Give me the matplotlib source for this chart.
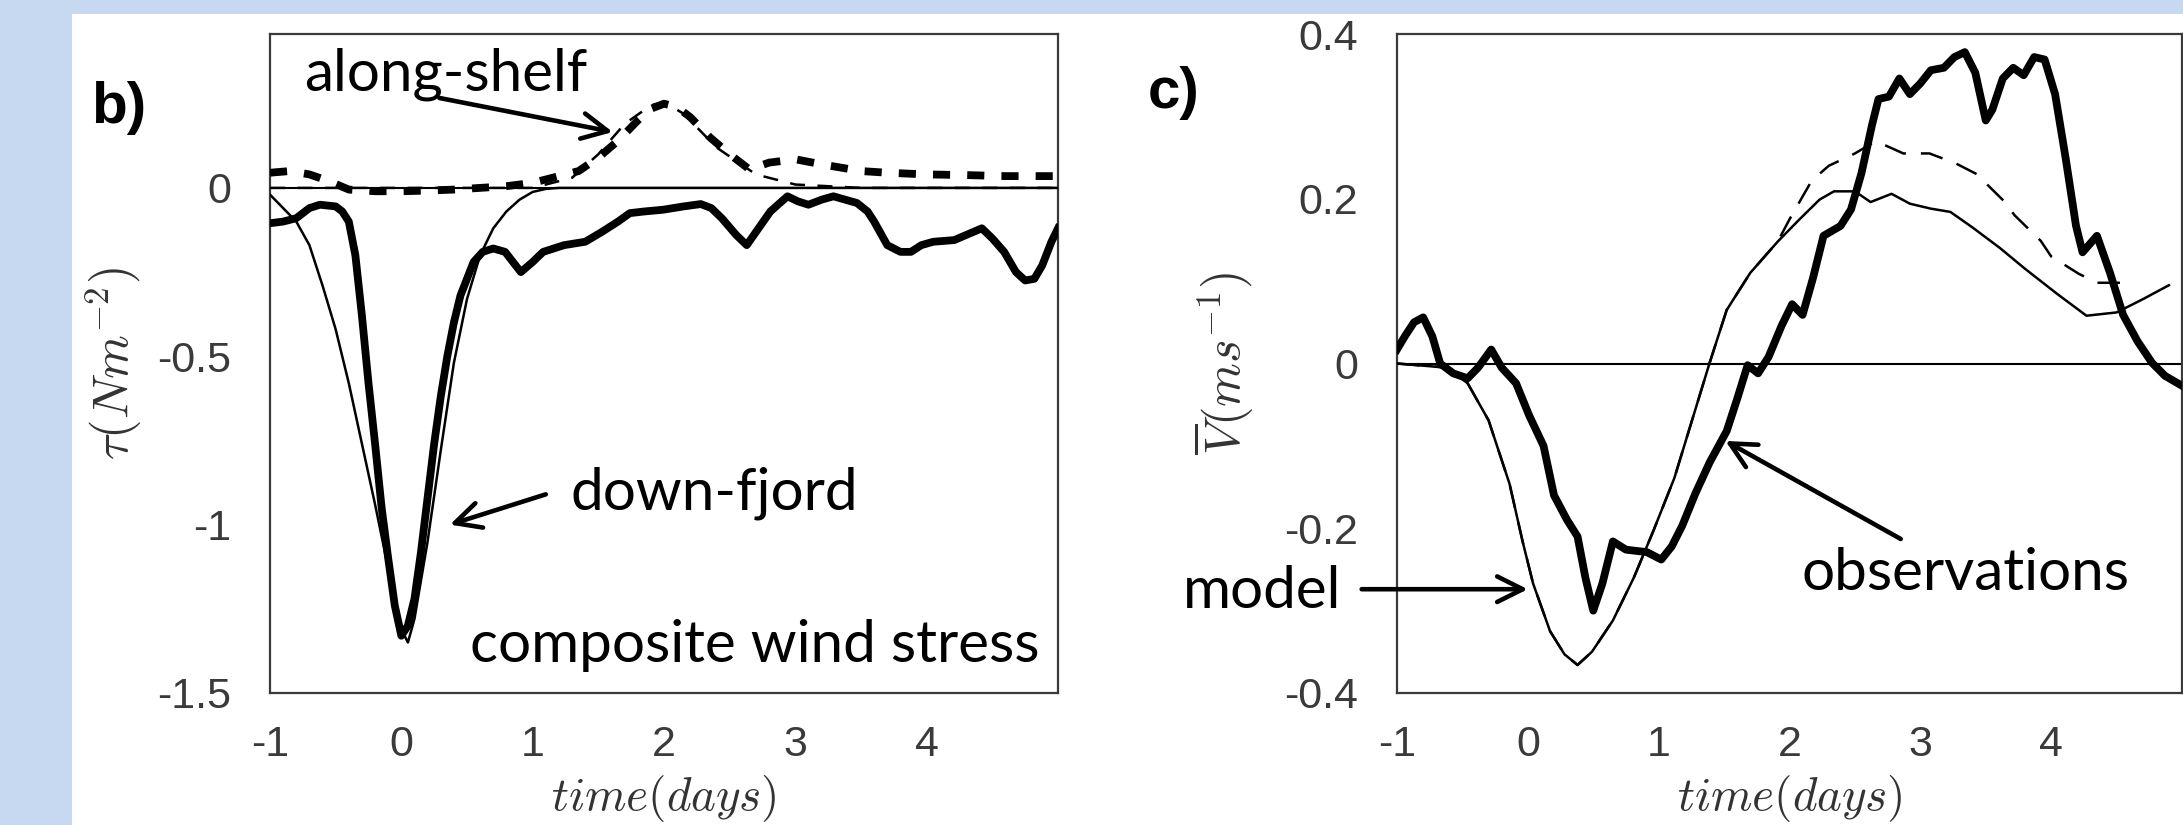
import matplotlib
matplotlib.use('Agg')
import matplotlib.pyplot as plt
from matplotlib.patches import Rectangle

plt.rcParams['mathtext.fontset'] = 'cm'

# ---------------- data ----------------
# panel b: composite wind stress
b_obs_t = [-1.0, -0.9, -0.8, -0.7, -0.62, -0.5, -0.45, -0.4, -0.35, -0.3, -0.25, -0.2,
           -0.15, -0.1, -0.05, 0.0, 0.05, 0.1, 0.15, 0.2, 0.25, 0.3, 0.35, 0.4, 0.45,
           0.5, 0.55, 0.62, 0.7, 0.79, 0.85, 0.91, 1.0, 1.08, 1.24, 1.4, 1.53, 1.65,
           1.74, 1.85, 1.99, 2.15, 2.28, 2.36, 2.44, 2.55, 2.63, 2.72, 2.81, 2.94, 3.02,
           3.10, 3.2, 3.29, 3.38, 3.47, 3.55, 3.60, 3.70, 3.80, 3.88, 3.96, 4.05, 4.21,
           4.3, 4.42, 4.5, 4.59, 4.68, 4.75, 4.82, 4.88, 4.95, 5.0]
b_obs_v = [-0.105, -0.10, -0.09, -0.06, -0.05, -0.055, -0.07, -0.10, -0.20, -0.38, -0.58,
           -0.76, -0.95, -1.10, -1.24, -1.33, -1.30, -1.22, -1.08, -0.92, -0.76, -0.62,
           -0.50, -0.40, -0.32, -0.27, -0.22, -0.19, -0.18, -0.19, -0.22, -0.25, -0.22,
           -0.19, -0.17, -0.16, -0.13, -0.10, -0.075, -0.07, -0.065, -0.055, -0.048,
           -0.06, -0.09, -0.14, -0.17, -0.12, -0.07, -0.025, -0.04, -0.05, -0.035, -0.025,
           -0.035, -0.045, -0.07, -0.10, -0.17, -0.19, -0.19, -0.17, -0.16, -0.155, -0.14,
           -0.12, -0.15, -0.19, -0.25, -0.275, -0.27, -0.23, -0.16, -0.12]

b_mod_t = [-1.0, -0.9, -0.8, -0.7, -0.6, -0.5, -0.4, -0.3, -0.2, -0.1, 0.0, 0.05, 0.1,
           0.2, 0.3, 0.4, 0.5, 0.6, 0.7, 0.8, 0.9, 1.0, 1.1, 1.2, 1.5, 2.0, 3.0, 4.0, 5.0]
b_mod_v = [-0.02, -0.06, -0.10, -0.17, -0.29, -0.42, -0.58, -0.76, -0.94, -1.13, -1.31,
           -1.35, -1.28, -1.05, -0.78, -0.52, -0.33, -0.20, -0.12, -0.07, -0.035, -0.012,
           -0.003, 0.0, 0.0, 0.0, 0.0, 0.0, 0.0]

b_along_t = [-1.0, -0.85, -0.7, -0.55, -0.4, -0.2, 0.0, 0.2, 0.4, 0.6, 0.8, 1.0, 1.2,
             1.35, 1.5, 1.65, 1.8, 1.9, 2.0, 2.1, 2.2, 2.35, 2.5, 2.65, 2.8, 3.0, 3.2,
             3.35, 3.5, 3.7, 4.0, 4.3, 4.6, 5.0]
b_along_v = [0.045, 0.05, 0.04, 0.02, -0.005, -0.01, -0.01, -0.008, -0.005, 0.0, 0.005,
             0.015, 0.035, 0.05, 0.09, 0.14, 0.2, 0.235, 0.25, 0.24, 0.21, 0.15, 0.1,
             0.055, 0.075, 0.085, 0.07, 0.06, 0.05, 0.045, 0.04, 0.038, 0.035, 0.035]

b_along_mod_t = [-1.0, 1.0, 1.3, 1.5, 1.7, 1.9, 2.0, 2.15, 2.4, 2.7, 3.0, 3.5, 4.0, 5.0]
b_along_mod_v = [0.0, 0.0, 0.03, 0.10, 0.19, 0.245, 0.255, 0.22, 0.12, 0.04, 0.01, 0.0,
                 0.0, 0.0]

# panel c: depth-averaged velocity
c_obs_t = [-1.0, -0.94, -0.87, -0.80, -0.73, -0.67, -0.57, -0.46, -0.38, -0.28, -0.20,
           -0.09, 0.01, 0.12, 0.20, 0.30, 0.38, 0.44, 0.50, 0.57, 0.65, 0.75, 0.91, 1.02,
           1.10, 1.18, 1.28, 1.39, 1.52, 1.60, 1.68, 1.76, 1.84, 1.94, 2.02, 2.10, 2.18,
           2.26, 2.39, 2.47, 2.55, 2.63, 2.68, 2.76, 2.84, 2.92, 3.00, 3.08, 3.18, 3.26,
           3.34, 3.42, 3.50, 3.55, 3.63, 3.71, 3.79, 3.87, 3.95, 4.03, 4.11, 4.19, 4.24,
           4.35, 4.45, 4.55, 4.66, 4.77, 4.87, 5.0]
c_obs_v = [0.017, 0.033, 0.05, 0.056, 0.033, 0.0, -0.012, -0.018, -0.005, 0.017, -0.005,
           -0.024, -0.063, -0.10, -0.16, -0.19, -0.21, -0.26, -0.30, -0.267, -0.216,
           -0.226, -0.229, -0.238, -0.222, -0.197, -0.158, -0.12, -0.082, -0.043, -0.002,
           -0.012, 0.008, 0.046, 0.072, 0.059, 0.104, 0.155, 0.167, 0.187, 0.231, 0.289,
           0.321, 0.324, 0.346, 0.327, 0.34, 0.356, 0.359, 0.372, 0.378, 0.353, 0.295,
           0.308, 0.346, 0.359, 0.35, 0.372, 0.369, 0.327, 0.25, 0.167, 0.135, 0.155,
           0.11, 0.059, 0.027, 0.001, -0.015, -0.027]

c_mod_t = [-1.0, -0.62, -0.46, -0.30, -0.14, -0.04, 0.04, 0.17, 0.28, 0.38, 0.49, 0.65,
           0.81, 0.96, 1.12, 1.28, 1.39, 1.52, 1.70, 1.91, 2.07, 2.23, 2.34, 2.50, 2.62,
           2.78, 2.92, 3.08, 3.23, 3.40, 3.61, 3.80, 4.05, 4.27, 4.50, 4.70, 4.90]
c_mod_v = [0.0, -0.005, -0.024, -0.069, -0.146, -0.216, -0.267, -0.325, -0.353, -0.366,
           -0.35, -0.312, -0.26, -0.203, -0.139, -0.056, 0.001, 0.065, 0.11, 0.148, 0.174,
           0.199, 0.209, 0.209, 0.196, 0.206, 0.194, 0.188, 0.184, 0.165, 0.14, 0.115,
           0.084, 0.058, 0.062, 0.078, 0.095]

c_mod2_t = [-1.0, -0.62, -0.46, -0.30, -0.14, -0.04, 0.04, 0.17, 0.28, 0.38, 0.49, 0.65,
            0.81, 0.96, 1.12, 1.28, 1.39, 1.52, 1.70, 1.91, 2.0, 2.17, 2.30, 2.50, 2.66,
            2.87, 3.07, 3.27, 3.43, 3.64, 3.72, 3.92, 4.0, 4.21, 4.35, 4.62]
c_mod2_v = [0.0, -0.005, -0.024, -0.069, -0.146, -0.216, -0.267, -0.325, -0.353, -0.366,
            -0.35, -0.312, -0.26, -0.203, -0.139, -0.056, 0.001, 0.065, 0.11, 0.148,
            0.175, 0.222, 0.24, 0.255, 0.27, 0.255, 0.255, 0.243, 0.23, 0.197, 0.18,
            0.149, 0.13, 0.109, 0.098, 0.098]

x_ticks = [-1, 0, 1, 2, 3, 4]
b_yticks = [-1.5, -1, -0.5, 0]
b_yticklabels = ['-1.5', '-1', '-0.5', '0']
c_yticks = [-0.4, -0.2, 0, 0.2, 0.4]
c_yticklabels = ['-0.4', '-0.2', '0', '0.2', '0.4']

# ---------------- figure ----------------
W, H = 2183, 825
fig = plt.figure(figsize=(W / 100, H / 100), dpi=100, facecolor='#C6D9F1')
fig.patches.append(Rectangle((72 / W, 0), 1 - 72 / W, 1 - 14 / H,
                             transform=fig.transFigure, facecolor='white',
                             edgecolor='none', zorder=-1))


def rect(left, right, top, bottom):
    return [left / W, 1 - bottom / H, (right - left) / W, (bottom - top) / H]


axb = fig.add_axes(rect(270, 1058, 34, 693))
axc = fig.add_axes(rect(1397, 2182, 34, 693))

tick_col = '#3a3a3a'
for ax in (axb, axc):
    ax.set_facecolor('white')
    ax.set_xlim(-1, 5)
    ax.set_xticks(x_ticks)
    ax.set_xticklabels([str(t) for t in x_ticks])
    ax.tick_params(axis='both', length=0, labelsize=31, labelcolor=tick_col)
    ax.tick_params(axis='x', pad=23)
    ax.tick_params(axis='y', pad=28)
    for lab in ax.get_xticklabels() + ax.get_yticklabels():
        lab.set_family('Liberation Sans')
    for sp in ax.spines.values():
        sp.set_color('#3a3a3a')
        sp.set_linewidth(1.6)
    ax.axhline(0, color='black', lw=1.5, zorder=2)
    ax.set_xlabel('$time(days)$', fontsize=34, color='#333333')
    ax.xaxis.set_label_coords(0.5, -0.122)

# panel b
axb.set_ylim(-1.5, 0.457)
axb.set_yticks(b_yticks)
axb.set_yticklabels(b_yticklabels)
for lab in axb.get_yticklabels():
    lab.set_family('Liberation Sans')
axb.plot(b_mod_t, b_mod_v, color='black', lw=1.8, zorder=3)
axb.plot(b_along_mod_t, b_along_mod_v, color='black', lw=1.8,
         ls=(0, (6, 5)), zorder=3)
axb.plot(b_along_t, b_along_v, color='black', lw=5.6, ls=(0, (2.2, 2.2)), zorder=4)
axb.plot(b_obs_t, b_obs_v, color='black', lw=5.6, solid_joinstyle='round', zorder=5)
axb.set_ylabel(r'$\tau(Nm^{-2})$', fontsize=36, color='#333333')
axb.yaxis.label.set_va('center')
axb.yaxis.set_label_coords(-0.198, 0.5)

tfont = dict(family='Lato', fontsize=42, color='black', va='baseline', ha='left',
             clip_on=False, zorder=10)
axb.text(-0.74, 0.29, 'along-shelf', **tfont)
axb.text(1.29, -0.956, 'down-fjord', **tfont)
axb.text(0.52, -1.408, 'composite wind stress', **tfont)
arr = dict(arrowstyle='->', lw=3.3, color='black', mutation_scale=46,
           shrinkA=0, shrinkB=0)
axb.annotate('', xy=(1.61, 0.166), xytext=(0.29, 0.267), arrowprops=arr,
             annotation_clip=False, zorder=10)
axb.annotate('', xy=(0.37, -1.0), xytext=(1.10, -0.91), arrowprops=arr,
             annotation_clip=False, zorder=10)

# panel c
axc.set_ylim(-0.4, 0.4)
axc.set_yticks(c_yticks)
axc.set_yticklabels(c_yticklabels)
for lab in axc.get_yticklabels():
    lab.set_family('Liberation Sans')
axc.plot(c_mod_t, c_mod_v, color='black', lw=1.8, zorder=3)
axc.plot(c_mod2_t, c_mod2_v, color='black', lw=1.8, ls=(0, (9, 6)), zorder=3)
axc.plot(c_obs_t, c_obs_v, color='black', lw=5.6, solid_joinstyle='round', zorder=5)
axc.set_ylabel(r'$\overline{V}(ms^{-1})$', fontsize=36, color='#333333')
axc.yaxis.label.set_va('center')
axc.yaxis.set_label_coords(-0.220, 0.5)

axc.text(-2.64, -0.297, 'model', **tfont)
axc.text(2.09, -0.275, 'observations', **tfont)
axc.annotate('', xy=(0.0, -0.274), xytext=(-1.27, -0.274), arrowprops=arr,
             annotation_clip=False, zorder=10)
axc.annotate('', xy=(1.51, -0.094), xytext=(2.85, -0.213), arrowprops=arr,
             annotation_clip=False, zorder=10)

# panel labels
fig.text(91 / W, 1 - 108 / H, 'b)', family='Liberation Sans', fontsize=42,
         fontweight='bold', color='black', va='center', ha='left')
fig.text(1148 / W, 1 - 93 / H, 'c)', family='Liberation Sans', fontsize=42,
         fontweight='bold', color='black', va='center', ha='left')

fig.savefig('out.png', dpi=100, facecolor=fig.get_facecolor())
